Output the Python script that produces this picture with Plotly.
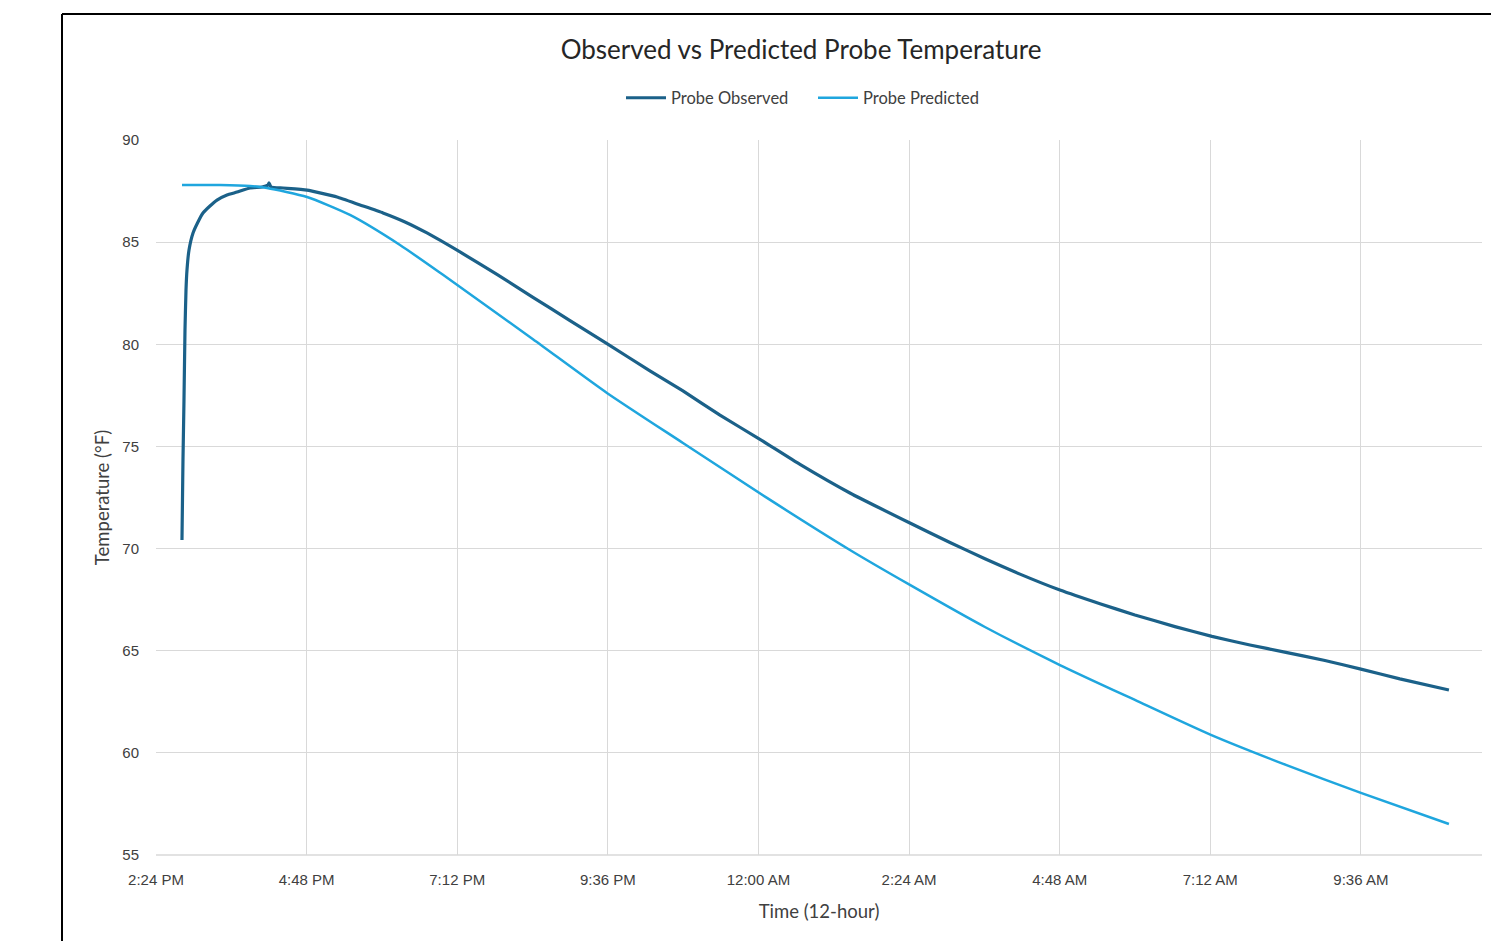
import plotly.graph_objects as go
from datetime import datetime, timedelta

BASE = datetime(2024, 1, 1, 14, 24)  # 2:24 PM

# Probe Observed: hours after 2:24 PM, temperature (°F)
obs_hours = [0.414, 0.422, 0.430, 0.446, 0.462, 0.478, 0.494, 0.526, 0.590, 0.669, 0.749, 0.860, 0.972,
             1.131, 1.291, 1.498, 1.689, 1.785, 1.801, 1.832, 2.024, 2.406, 2.884, 3.251, 3.617, 3.968,
             4.318, 4.844, 5.433, 6.007, 6.597, 7.186, 7.871, 8.397, 8.987, 9.624, 10.262, 11.058,
             12.014, 12.652, 13.209, 13.767, 14.404, 15.042, 15.599, 16.237, 16.826, 17.432, 18.005,
             18.627, 19.200, 19.821, 20.603]
obs_temp = [70.42, 72.38, 74.34, 77.27, 80.70, 82.66, 83.64, 84.62, 85.45, 85.99, 86.43, 86.77, 87.06,
            87.31, 87.45, 87.65, 87.70, 87.80, 87.90, 87.70, 87.65, 87.55, 87.21, 86.82, 86.43, 85.99,
            85.45, 84.52, 83.42, 82.30, 81.16, 80.03, 78.70, 77.72, 76.53, 75.35, 74.12, 72.72,
            71.25, 70.30, 69.50, 68.75, 67.97, 67.30, 66.75, 66.18, 65.70, 65.28, 64.92,
            64.52, 64.10, 63.62, 63.08]

# Probe Predicted: hours after 2:24 PM, temperature (°F)
pred_hours = [0.414, 1.020, 1.498, 1.769, 2.406, 3.091, 3.888, 4.573, 6.007, 7.186, 8.397, 9.736,
              11.058, 12.014, 13.209, 14.404, 15.599, 16.810, 18.005, 19.200, 20.603]
pred_temp = [87.80, 87.80, 87.75, 87.65, 87.21, 86.33, 84.86, 83.40, 80.25, 77.62, 75.17, 72.48,
             69.93, 68.22, 66.16, 64.30, 62.59, 60.88, 59.41, 58.04, 56.52]

tick_hours = [0, 2.4, 4.8, 7.2, 9.6, 12.0, 14.4, 16.8, 19.2]
tick_labels = ["2:24 PM", "4:48 PM", "7:12 PM", "9:36 PM", "12:00 AM", "2:24 AM", "4:48 AM", "7:12 AM", "9:36 AM"]
y_ticks = [55, 60, 65, 70, 75, 80, 85, 90]


def to_time(h):
    return BASE + timedelta(hours=h)


fig = go.Figure()
fig.add_trace(go.Scatter(x=[to_time(h) for h in obs_hours], y=obs_temp, mode="lines",
                         name="Probe Observed", line=dict(color="#1b6189", width=3.2, shape="spline",
                                                          smoothing=0.4)))
fig.add_trace(go.Scatter(x=[to_time(h) for h in pred_hours], y=pred_temp, mode="lines",
                         name="Probe Predicted", line=dict(color="#1fa6de", width=2.5, shape="spline",
                                                           smoothing=0.6)))

W, H = 1491, 941
L, R, T, B = 156, 9, 140, 86
pw, ph = W - L - R, H - T - B

fig.update_layout(
    width=W, height=H,
    margin=dict(l=L, r=R, t=T, b=B),
    paper_bgcolor="white", plot_bgcolor="white",
    font=dict(family="Lato, Liberation Sans, sans-serif", color="#404040"),
    title=dict(text="Observed vs Predicted Probe Temperature", x=(801 - L) / pw, xref="paper",
               xanchor="center", y=1 - 50 / H, yanchor="middle",
               font=dict(size=26, color="#262626", family="Lato, sans-serif")),
    legend=dict(orientation="h", x=(621 - L) / pw, xanchor="left", y=1 + 42 / ph, yanchor="middle",
                font=dict(size=16.5, color="#404040"), itemwidth=40, bgcolor="rgba(0,0,0,0)",
                entrywidth=137, entrywidthmode="pixels"),
    showlegend=True,
)
fig.update_xaxes(
    type="date",
    range=[to_time(0), to_time(21.13)],
    tickvals=[to_time(h) for h in tick_hours], ticktext=tick_labels,
    showgrid=True, gridcolor="#d9d9d9", gridwidth=1, zeroline=False, showline=False,
    ticks="", ticklabelstandoff=14,
    tickfont=dict(size=15, color="#404040", family="Liberation Sans Narrow, Arial Narrow, sans-serif"),
    title=dict(text="Time (12-hour)", font=dict(size=18.5, color="#404040"), standoff=18),
)
fig.update_yaxes(
    range=[55, 90], tickvals=y_ticks,
    showgrid=True, gridcolor="#d9d9d9", gridwidth=1, zeroline=False, showline=False,
    ticks="", tickfont=dict(size=15, color="#404040", family="Liberation Sans, Arial, sans-serif"),
    ticklabelstandoff=16,
    title=dict(text="Temperature (°F)", font=dict(size=18.5, color="#404040"), standoff=7),
)
# bottom gridline at 55
fig.add_shape(type="line", xref="paper", yref="paper", x0=0, x1=1, y0=0, y1=0,
              line=dict(color="#d9d9d9", width=1.5))
# outer frame (top and left edges)
fx0 = (62 - L) / pw
fy1 = 1 + (T - 14) / ph
fig.add_shape(type="line", xref="paper", yref="paper", x0=fx0, x1=1.2, y0=fy1, y1=fy1,
              line=dict(color="black", width=2))
fig.add_shape(type="line", xref="paper", yref="paper", x0=fx0, x1=fx0, y0=fy1, y1=-0.3,
              line=dict(color="black", width=2))

fig.write_html("out.html")
